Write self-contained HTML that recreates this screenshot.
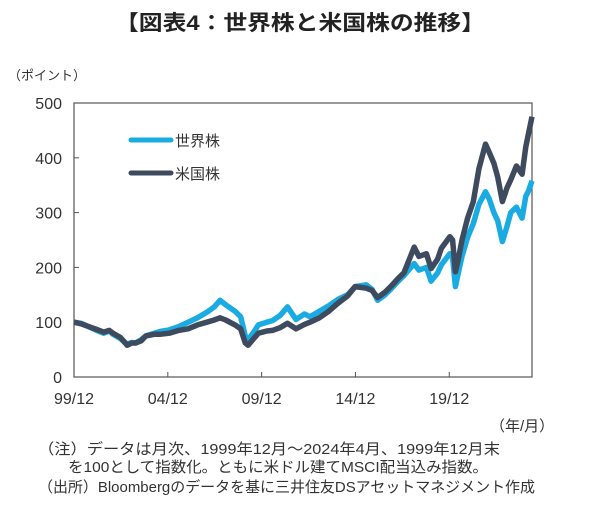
<!DOCTYPE html>
<html><head><meta charset="utf-8">
<style>
body{margin:0;background:#fff;width:600px;height:513px;overflow:hidden;font-family:"Liberation Sans","Noto Sans CJK JP",sans-serif;color:#333}
svg text{font-family:"Liberation Sans","Noto Sans CJK JP",sans-serif}
</style></head><body>
<svg id="chart" width="600" height="513" xmlns="http://www.w3.org/2000/svg">
<text x="115" y="30" font-size="21" font-weight="bold" fill="#222" textLength="370" lengthAdjust="spacingAndGlyphs">【図表4：世界株と米国株の推移】</text>
<text x="8" y="80" font-size="13" fill="#333">（ポイント）</text>
<text x="490" y="431" font-size="15" fill="#333">（年/月）</text>
<text x="38" y="454" font-size="15" fill="#333" textLength="462" lengthAdjust="spacingAndGlyphs">（注）データは月次、1999年12月～2024年4月、1999年12月末</text>
<text x="68" y="472" font-size="15" fill="#333" textLength="420" lengthAdjust="spacingAndGlyphs">を100として指数化。ともに米ドル建てMSCI配当込み指数。</text>
<text x="38" y="492" font-size="15" fill="#333" textLength="497" lengthAdjust="spacingAndGlyphs">（出所）Bloombergのデータを基に三井住友DSアセットマネジメント作成</text>
<g id="axes"></g>
<g id="series"></g>
<g>
<line x1="131" y1="140" x2="171" y2="140" stroke="#1aabe3" stroke-width="5" stroke-linecap="round"/>
<text x="175" y="146" font-size="15" fill="#333">世界株</text>
<line x1="131" y1="173" x2="171" y2="173" stroke="#3e4a5e" stroke-width="5" stroke-linecap="round"/>
<text x="175" y="179" font-size="15" fill="#333">米国株</text>
</g>
</svg>
<script>
const dates=[1999.92,2000.3,2000.7,2001.2,2001.5,2001.8,2002.0,2002.4,2002.75,2003.0,2003.2,2003.5,2003.75,2004.2,2004.5,2005.0,2005.5,2006.0,2006.5,2007.0,2007.4,2007.7,2008.0,2008.5,2008.8,2009.05,2009.2,2009.5,2009.75,2010.2,2010.5,2010.9,2011.3,2011.75,2012.2,2012.5,2013.0,2013.5,2014.0,2014.5,2014.9,2015.5,2015.8,2016.1,2016.5,2016.8,2017.2,2017.5,2018.05,2018.3,2018.7,2018.95,2019.3,2019.5,2019.95,2020.1,2020.25,2020.4,2020.6,2020.9,2021.2,2021.5,2021.85,2022.05,2022.3,2022.5,2022.75,2023.0,2023.2,2023.5,2023.8,2024.0,2024.15,2024.33];
const worldValues=[100,98,92,84,80,84,78,70,60,63,62,68,75,80,83,86,92,100,108,118,128,140,132,120,110,75,68,82,95,100,103,112,128,105,115,110,120,130,142,150,165,168,160,140,150,160,175,185,207,195,200,175,190,205,225,218,165,190,220,255,280,315,338,325,300,285,247,275,300,310,290,330,340,358];
const usValues=[100,97,92,86,82,85,80,72,58,62,62,66,75,78,78,80,85,88,95,100,104,108,104,95,88,62,58,70,80,84,85,90,98,88,96,100,108,120,135,148,165,162,158,145,155,165,180,190,237,220,225,198,215,235,256,250,192,215,250,290,320,380,425,410,390,365,320,345,360,385,370,420,445,475];
const yTicks=[0,100,200,300,400,500];
const xTickYears=[1999.92,2004.92,2009.92,2014.92,2019.92];
const xTickLabels=["99/12","04/12","09/12","14/12","19/12"];
const X0=74,X1=532,Y0=377,Y1=103,T0=1999.92,T1=2024.33,V1=500;
const xs=t=>X0+(t-T0)/(T1-T0)*(X1-X0);
const ys=v=>Y0-v/V1*(Y0-Y1);
const NS="http://www.w3.org/2000/svg";
const axes=document.getElementById('axes'),series=document.getElementById('series');
function mk(tag,attrs,parent){const e=document.createElementNS(NS,tag);for(const k in attrs)e.setAttribute(k,attrs[k]);parent.appendChild(e);return e;}
const frame=mk('rect',{x:X0,y:Y1,width:X1-X0,height:Y0-Y1,fill:'none',stroke:'#555','stroke-width':1.2},axes);


yTicks.forEach(v=>{
  const tk=mk('line',{x1:X0,x2:X0+5,y1:ys(v),y2:ys(v),stroke:'#555'},axes);
  
  
  const t=mk('text',{x:X0-12,y:ys(v)+6,'text-anchor':'end','font-size':16,fill:'#333'},axes);
  t.textContent=v;
  
  
});
xTickYears.forEach((yr,i)=>{
  if(i>0){const tk=mk('line',{x1:xs(yr),x2:xs(yr),y1:Y0,y2:Y0-5,stroke:'#555'},axes);
  
  }
  const t=mk('text',{x:xs(yr),y:404,'text-anchor':'middle','font-size':16,fill:'#333'},axes);
  t.textContent=xTickLabels[i];
  
  
});
function line(vals,color,name){
  const d=vals.map((v,i)=>(i?'L':'M')+xs(dates[i]).toFixed(1)+' '+ys(v).toFixed(1)).join(' ');
  const p=mk('path',{d:d,fill:'none',stroke:color,'stroke-width':5.5,'stroke-linejoin':'round'},series);
  
  
}
line(worldValues,'#1aabe3','world-stock-line');
line(usValues,'#3e4a5e','us-stock-line');
</script>
</body></html>
